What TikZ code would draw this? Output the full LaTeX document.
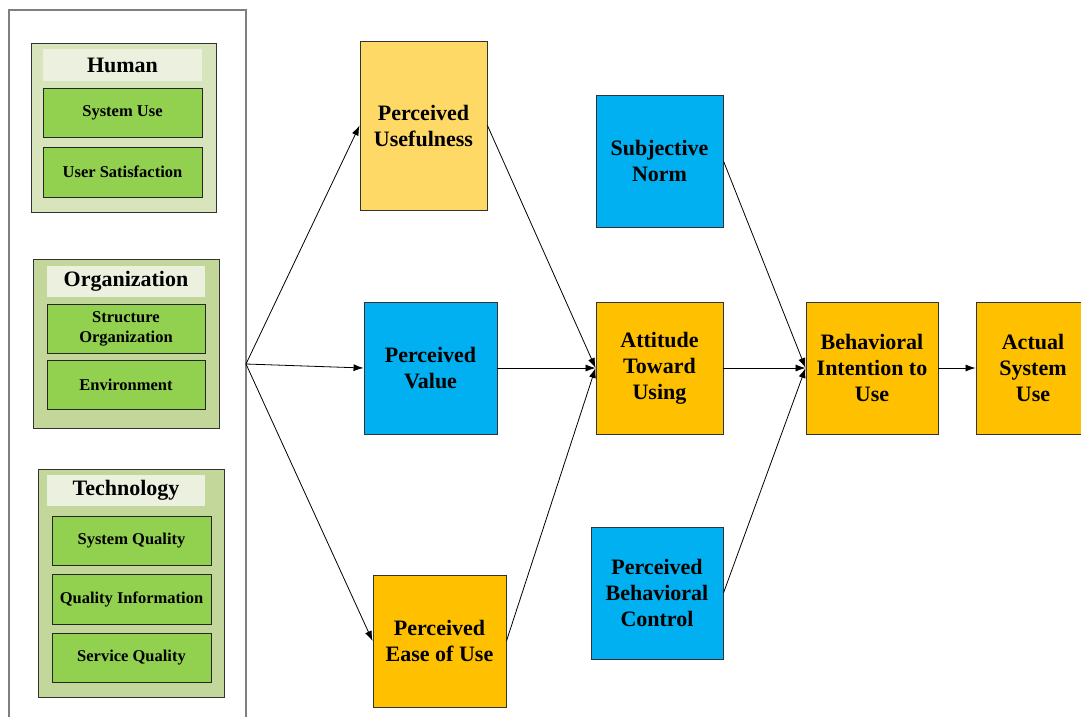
\documentclass[tikz,border=0pt]{standalone}
\usepackage{fontspec}
\setmainfont{Liberation Serif}
\usetikzlibrary{arrows.meta}

\definecolor{grouplight}{HTML}{D8E4BC}
\definecolor{groupdark}{HTML}{C4D79B}
\definecolor{bandgreen}{HTML}{EBF1DE}
\definecolor{itemgreen}{HTML}{92D050}
\definecolor{paleorange}{HTML}{FFD966}
\definecolor{orange}{HTML}{FFC000}
\definecolor{skyblue}{HTML}{00B0F0}
\definecolor{framegray}{HTML}{7F7F7F}

\begin{document}
\begin{tikzpicture}[x=1pt,y=-1pt,
  groupbox/.style={draw=black!80, line width=0.8pt, inner sep=0pt},
  bandbox/.style={fill=bandgreen, inner sep=0pt, align=center,
    font=\bfseries\fontsize{22}{26}\selectfont},
  itembox/.style={fill=itemgreen, draw=black!85, line width=0.8pt, inner sep=0pt,
    align=center, font=\bfseries\fontsize{16.5}{20}\selectfont},
  mainbox/.style={draw=black!80, line width=0.9pt, inner sep=0pt, align=center,
    font=\bfseries\fontsize{22}{26}\selectfont},
  link/.style={line width=0.8pt, -{Latex[length=10pt,width=7pt]}},
  plain/.style={line width=0.8pt}
]
\useasboundingbox (0,0) rectangle (1081,716);
\fill[white] (0,0) rectangle (1081,716);

% frame around the three factor groups (open at the bottom)
\draw[framegray, line width=1.3pt] (9,725) -- (9,10) -- (246,10) -- (246,725);

% Human
\node[groupbox, fill=grouplight, minimum width=185pt, minimum height=169pt] (hum) at (123.5,127.5) {};
\node[bandbox, minimum width=159pt, minimum height=32pt] (humt) at (122.5,65) {Human};
\node[itembox, minimum width=159pt, minimum height=49pt] (sysuse) at (122.5,112.5) {System Use};
\node[itembox, minimum width=159pt, minimum height=50pt] (usat) at (122.5,172) {User Satisfaction};

% Organization
\node[groupbox, fill=groupdark, minimum width=186pt, minimum height=169pt] (org) at (126,343.5) {};
\node[bandbox, minimum width=158pt, minimum height=31pt] (orgt) at (126,281.5) {Organization};
\node[itembox, minimum width=158pt, minimum height=49pt] (struct) at (126,328.5) {Structure\\Organization};
\node[itembox, minimum width=158pt, minimum height=49pt] (env) at (126,384.5) {Environment};

% Technology
\node[groupbox, fill=groupdark, minimum width=186pt, minimum height=228pt] (tech) at (131,583) {};
\node[bandbox, minimum width=158pt, minimum height=31pt] (techt) at (126,490.5) {Technology};
\node[itembox, minimum width=159pt, minimum height=49pt] (sysq) at (131.5,540.5) {System Quality};
\node[itembox, minimum width=159pt, minimum height=50pt] (qinfo) at (131.5,599) {Quality Information};
\node[itembox, minimum width=159pt, minimum height=49pt] (servq) at (131.5,657.5) {Service Quality};

% model constructs
\node[mainbox, fill=paleorange, minimum width=127pt, minimum height=169pt] (pu) at (423.5,125.5) {Perceived\\Usefulness};
\node[mainbox, fill=skyblue, minimum width=133pt, minimum height=132pt] (pv) at (430.5,368) {Perceived\\Value};
\node[mainbox, fill=orange, minimum width=133pt, minimum height=132pt] (peou) at (439.5,641) {Perceived\\Ease of Use};
\node[mainbox, fill=skyblue, minimum width=127pt, minimum height=132pt] (sn) at (659.5,161) {Subjective\\Norm};
\node[mainbox, fill=orange, minimum width=127pt, minimum height=132pt] (att) at (659.5,368) {Attitude\\Toward\\Using};
\node[mainbox, fill=skyblue, minimum width=132pt, minimum height=132pt] (pbc) at (657,593) {Perceived\\Behavioral\\Control};
\node[mainbox, fill=orange, minimum width=132pt, minimum height=132pt] (bi) at (872,368) {Behavioral\\Intention to\\Use};
\node[mainbox, fill=orange, minimum width=114pt, minimum height=132pt] (asu) at (1033,368) {Actual\\System\\Use};

% fan-out from the frame
\coordinate (fan) at (246,364);
\draw[link] (fan) -- (pu.west);
\draw[link] (fan) -- (pv.west);
\draw[link] (fan) -- (peou.west);

% paths of the model
\draw[link] (pu.east) -- (att.west);
\draw[link] (pv.east) -- (att.west);
\draw[link] (peou.east) -- (att.west);
\draw[link] (sn.east) -- (bi.west);
\draw[link] (att.east) -- (bi.west);
\draw[link] (pbc.east) -- (bi.west);
\draw[link] (bi.east) -- (asu.west);
\end{tikzpicture}
\end{document}
